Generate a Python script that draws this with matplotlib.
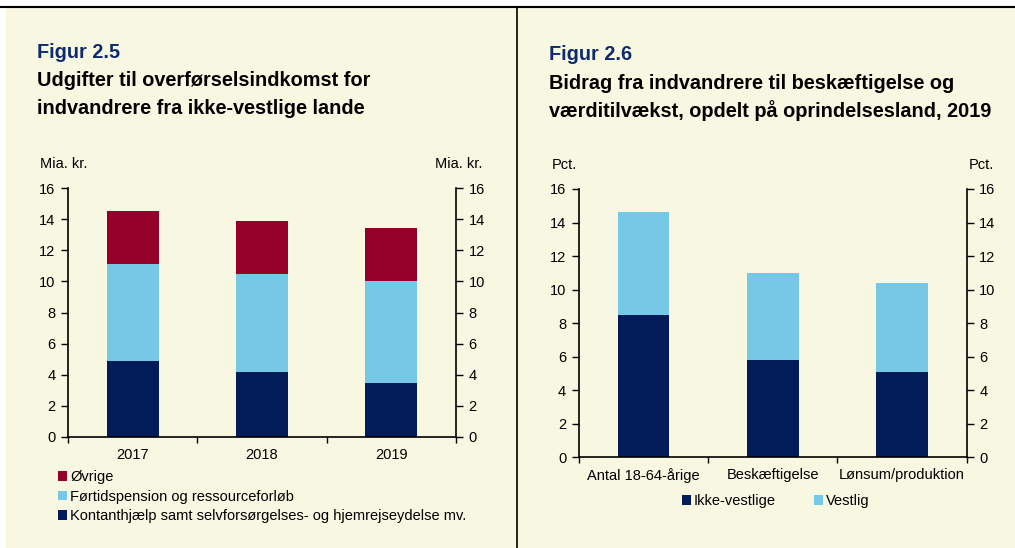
import matplotlib
matplotlib.use('Agg')
import numpy as np
import matplotlib.pyplot as plt
from matplotlib.patches import Rectangle
from matplotlib.lines import Line2D

plt.rcParams['font.family'] = ['Liberation Sans', 'DejaVu Sans']

# Figur 2.5 - Mia. kr.
years = ['2017', '2018', '2019']
kontant = [4.9, 4.15, 3.5]
fortid = [6.2, 6.35, 6.55]
ovrige = [3.4, 3.35, 3.35]
left_labels = ['Øvrige', 'Førtidspension og ressourceforløb',
               'Kontanthjælp samt selvforsørgelses- og hjemrejseydelse mv.']

# Figur 2.6 - Pct.
cats = ['Antal 18-64-årige', 'Beskæftigelse', 'Lønsum/produktion']
ikke_vestlige = [8.5, 5.8, 5.1]
vestlig = [6.1, 5.2, 5.3]

NAVY = '#021c5a'
LIGHT = '#75c8e6'
RED = '#95002b'
BG = '#f8f7e1'
TITLEBLUE = '#0e2b6e'
FS = 10.5
TFS = 14.3

fig = plt.figure(figsize=(10.15, 5.48), dpi=100, facecolor=BG)

# frame bits: white strip left/top, black line top, divider
fig.patches.append(Rectangle((0, 0), 6 / 1015, 1, transform=fig.transFigure,
                             facecolor='white', edgecolor='none', zorder=0))
fig.patches.append(Rectangle((0, 1 - 6 / 548), 1, 6 / 548, transform=fig.transFigure,
                             facecolor='white', edgecolor='none', zorder=0))
fig.add_artist(Line2D([0, 1], [1 - 6.5 / 548] * 2, transform=fig.transFigure,
                      color='black', lw=1.5))
fig.add_artist(Line2D([517 / 1015] * 2, [0, 1 - 6.5 / 548], transform=fig.transFigure,
                      color='black', lw=1.2))


def style_axes(ax, n, ylabel_left_x, ylabel_right_x, ylabel_y, unit):
    ax.set_facecolor('none')
    ax.set_xlim(-0.5, n - 0.5)
    ax.set_ylim(0, 16)
    ax.set_yticks(np.arange(0, 17, 2))
    ax.spines['top'].set_visible(False)
    for s in ['left', 'right', 'bottom']:
        ax.spines[s].set_linewidth(1.2)
    ax.tick_params(axis='y', which='both', direction='out', length=5, width=1,
                   labelsize=FS, left=True, right=True, labelleft=True, labelright=True, pad=4)
    ax.set_xticks(np.arange(n))
    ax.set_xticks(np.arange(-0.5, n, 1), minor=True)
    ax.tick_params(axis='x', which='major', length=0, labelsize=FS, pad=8)
    ax.tick_params(axis='x', which='minor', length=4, width=1, direction='out')
    fig.text(ylabel_left_x / 1015, 1 - ylabel_y / 548, unit, fontsize=FS,
             ha='left', va='center')
    fig.text(ylabel_right_x / 1015, 1 - ylabel_y / 548, unit, fontsize=FS,
             ha='right', va='center')


# ---- Figur 2.5
ax1 = fig.add_axes([68 / 1015, 1 - 437 / 548, 388 / 1015, 249 / 548])
x1 = np.arange(len(years))
b1 = ax1.bar(x1, kontant, width=0.4, color=NAVY)
b2 = ax1.bar(x1, fortid, width=0.4, bottom=kontant, color=LIGHT)
bot = np.array(kontant) + np.array(fortid)
b3 = ax1.bar(x1, ovrige, width=0.4, bottom=bot, color=RED)
ax1.set_xticklabels(years)
style_axes(ax1, 3, 40, 482, 164, 'Mia. kr.')

fig.legend(handles=[b3, b2, b1], labels=left_labels, loc='upper left',
           bbox_to_anchor=(58 / 1015, 1 - 470 / 548), frameon=False, fontsize=FS,
           handlelength=0.62, handleheight=0.62, handletextpad=0.2,
           labelspacing=0.38, borderpad=0, borderaxespad=0)

fig.text(37 / 1015, 1 - 53 / 548, 'Figur 2.5', fontsize=TFS, fontweight='bold',
         color=TITLEBLUE, va='center', ha='left')
fig.text(37 / 1015, 1 - 81 / 548, 'Udgifter til overførselsindkomst for', fontsize=TFS,
         fontweight='bold', va='center', ha='left')
fig.text(37 / 1015, 1 - 109 / 548, 'indvandrere fra ikke-vestlige lande', fontsize=TFS,
         fontweight='bold', va='center', ha='left')

# ---- Figur 2.6
ax2 = fig.add_axes([578.7 / 1015, 1 - 457.3 / 548, 388 / 1015, 268.3 / 548])
x2 = np.arange(len(cats))
c1 = ax2.bar(x2, ikke_vestlige, width=0.4, color=NAVY)
c2 = ax2.bar(x2, vestlig, width=0.4, bottom=ikke_vestlige, color=LIGHT)
ax2.set_xticklabels(cats)
style_axes(ax2, 3, 552, 994, 165, 'Pct.')

fig.legend(handles=[c1, c2], labels=['Ikke-vestlige', 'Vestlig'], loc='center left',
           bbox_to_anchor=(682 / 1015, 1 - 501 / 548), ncol=2, frameon=False, fontsize=FS,
           handlelength=0.62, handleheight=0.62, handletextpad=0.2,
           columnspacing=2.6, borderpad=0, borderaxespad=0)

fig.text(549 / 1015, 1 - 55 / 548, 'Figur 2.6', fontsize=TFS, fontweight='bold',
         color=TITLEBLUE, va='center', ha='left')
fig.text(549 / 1015, 1 - 83 / 548, 'Bidrag fra indvandrere til beskæftigelse og', fontsize=TFS,
         fontweight='bold', va='center', ha='left')
fig.text(549 / 1015, 1 - 111 / 548, 'værditilvækst, opdelt på oprindelsesland, 2019',
         fontsize=TFS, fontweight='bold', va='center', ha='left')

fig.savefig('out.png', dpi=100, facecolor=BG)
